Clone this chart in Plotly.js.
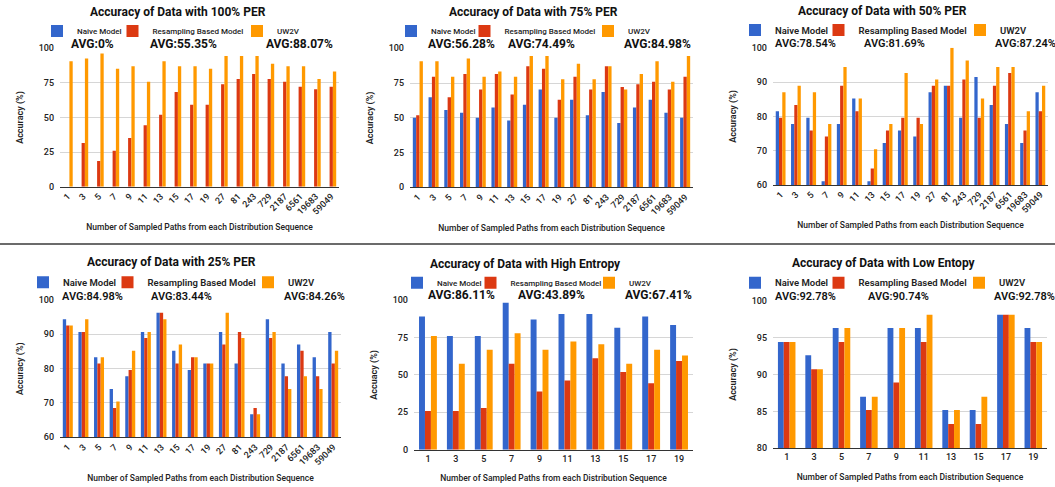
<!DOCTYPE html>
<html><head><meta charset="utf-8">
<script src="https://cdn.plot.ly/plotly-3.0.1.min.js"></script>
<style>html,body{margin:0;padding:0;background:#fff}#chart{width:1055px;height:487px}</style>
</head><body><div id="chart"></div>
<script>
// ---------- data ----------
const seriesNames = ['Naive Model', 'Resampling Based Model', 'UW2V'];
const seriesColors = ['#3366cc', '#dc3912', '#ff9900'];

const paths18 = ['1','3','5','7','9','11','13','15','17','19','27','81','243','729','2187','6561','19683','59049'];
const paths10 = ['1','3','5','7','9','11','13','15','17','19'];

// 100% PER
const naive100  = [0, 0, 0, 0, 0, 0, 0, 0, 0, 0, 0, 0, 0, 0, 0, 0, 0, 0];
const resamp100 = [0, 31.5, 18.5, 25.9, 35.2, 44.4, 51.9, 68.5, 59.3, 59.3, 74.1, 77.8, 81.5, 77.8, 75.9, 72.2, 70.4, 72.2];
const uw2v100   = [90.7, 92.6, 96.3, 85.2, 87.0, 75.9, 90.7, 87.0, 87.0, 85.2, 94.4, 94.4, 94.4, 88.9, 87.0, 87.0, 77.8, 83.3];
// 75% PER
const naive75  = [50.0, 64.8, 55.6, 53.7, 50.0, 57.4, 48.1, 59.3, 70.4, 50.0, 63.0, 51.9, 68.5, 46.3, 57.4, 63.0, 53.7, 50.0];
const resamp75 = [51.9, 79.6, 64.8, 81.5, 70.4, 81.5, 66.7, 87.0, 85.2, 63.0, 79.6, 70.4, 87.0, 72.2, 74.1, 75.9, 70.4, 79.6];
const uw2v75   = [90.7, 90.7, 79.6, 92.6, 79.6, 83.3, 79.6, 94.4, 94.4, 77.8, 88.9, 77.8, 87.0, 70.4, 81.5, 90.7, 75.9, 94.4];
// 50% PER
const naive50  = [81.5, 77.8, 79.6, 61.1, 77.8, 85.2, 61.1, 72.2, 75.9, 74.1, 87.0, 88.9, 79.6, 91.5, 83.3, 77.8, 72.2, 87.0];
const resamp50 = [79.6, 83.3, 75.9, 74.1, 88.9, 81.5, 64.8, 75.9, 79.6, 79.6, 88.9, 88.9, 90.7, 79.6, 88.9, 92.6, 75.9, 81.5];
const uw2v50   = [87.0, 88.9, 87.0, 77.8, 94.4, 85.2, 70.4, 77.8, 92.6, 77.8, 90.7, 100, 96.3, 85.2, 94.4, 94.4, 81.5, 88.9];
// 25% PER
const naive25  = [94.4, 90.7, 83.3, 74.1, 77.8, 90.7, 96.3, 85.2, 79.6, 81.5, 90.7, 81.5, 66.7, 94.4, 81.5, 87.0, 83.3, 90.7];
const resamp25 = [92.6, 90.7, 81.5, 68.5, 79.6, 88.9, 96.3, 81.5, 83.3, 81.5, 87.0, 90.7, 68.5, 88.9, 77.8, 85.2, 77.8, 81.5];
const uw2v25   = [92.6, 94.4, 83.3, 70.4, 85.2, 90.7, 94.4, 87.0, 83.3, 81.5, 96.3, 88.9, 66.7, 90.7, 74.1, 77.8, 74.1, 85.2];
// High entropy
const naiveHigh  = [88.9, 75.9, 75.9, 98.1, 87.0, 90.7, 90.7, 81.5, 88.9, 83.3];
const resampHigh = [25.9, 25.9, 27.8, 57.4, 38.9, 46.3, 61.1, 51.9, 44.4, 59.3];
const uw2vHigh   = [75.9, 57.4, 66.7, 77.8, 66.7, 72.2, 70.4, 57.4, 66.7, 63.0];
// Low entropy
const naiveLow  = [94.4, 92.6, 96.3, 87.0, 96.3, 96.3, 85.2, 85.2, 98.1, 96.3];
const resampLow = [94.4, 90.7, 94.4, 85.2, 88.9, 94.4, 83.3, 83.3, 98.1, 94.4];
const uw2vLow   = [94.4, 90.7, 96.3, 87.0, 96.3, 98.1, 85.2, 87.0, 98.1, 94.4];

const panelTitles = ['Accuracy of Data with 100% PER', 'Accuracy of Data with 75% PER', 'Accuracy of Data with 50% PER',
                     'Accuracy of Data with 25% PER', 'Accuracy of Data with High Entropy', 'Accuracy of Data with Low Entopy'];
const avgLabels = [
  ['AVG:0%', 'AVG:55.35%', 'AVG:88.07%'],
  ['AVG:56.28%', 'AVG:74.49%', 'AVG:84.98%'],
  ['AVG:78.54%', 'AVG:81.69%', 'AVG:87.24%'],
  ['AVG:84.98%', 'AVG:83.44%', 'AVG:84.26%'],
  ['AVG:86.11%', 'AVG:43.89%', 'AVG:67.41%'],
  ['AVG:92.78%', 'AVG:90.74%', 'AVG:92.78%']
];
const yTitles = ['Accuracy (%)', 'Accuracy (%)', 'Accuracy (%)', 'Accuracy (%)', 'Accuacy (%)', 'Accuracy (%)'];
const xTitle = 'Number of Sampled Paths from each Distribution Sequence';

const panelCats = [paths18, paths18, paths18, paths18, paths10, paths10];
const panelSeries = [
  [naive100, resamp100, uw2v100],
  [naive75, resamp75, uw2v75],
  [naive50, resamp50, uw2v50],
  [naive25, resamp25, uw2v25],
  [naiveHigh, resampHigh, uw2vHigh],
  [naiveLow, resampLow, uw2vLow]
];

// ---------- geometry (pixels) ----------
const W = 1055, H = 487;
const geo = [
  {x0:60,  x1:339,  y0:48.3, y1:186.7, range:[0,100], dtick:25, rot:true,  tx:178, ty:12,   lx:[37,110,232],  ly:31,    ax:[69,148,264],  ay:43.5,  big:true},
  {x0:410, x1:693,  y0:48.3, y1:187.3, range:[0,100], dtick:25, rot:true,  tx:533, ty:12.3, lx:[391,462,583], ly:31,    ax:[426,506,622], ay:43.5,  big:true},
  {x0:773, x1:1048, y0:47.7, y1:185,   range:[60,100],dtick:10, rot:true,  tx:882, ty:11,   lx:[735,816,955], ly:30,    ax:[773,862,993], ay:43.5,  big:false},
  {x0:60,  x1:341,  y0:300,  y1:437.3, range:[60,100],dtick:10, rot:true,  tx:171, ty:261.7,lx:[23,105,243],  ly:282.3, ax:[60,149,282],  ay:296.7, big:false},
  {x0:414, x1:693,  y0:300,  y1:449.7, range:[0,100], dtick:25, rot:false, tx:525, ty:264,  lx:[397,468,584], ly:282.7, ax:[426,516,623], ay:295,   big:true},
  {x0:773, x1:1047, y0:300.7,y1:448.3, range:[80,100],dtick:5,  rot:false, tx:884, ty:263.3,lx:[735,816,954], ly:282.7, ax:[773,866,992], ay:296.7, big:false}
];

const FONT = 'Roboto, Arial, sans-serif';
const data = [];
const layout = {
  width: W, height: H,
  margin: {l:0, r:0, t:0, b:0},
  paper_bgcolor: '#ffffff', plot_bgcolor: '#ffffff',
  barmode: 'group', bargap: 0.36, bargroupgap: 0,
  font: {family: FONT, color: '#222'},
  annotations: [], shapes: []
};

geo.forEach((g, i) => {
  const n = i + 1;
  const xa = 'x' + (n === 1 ? '' : n), ya = 'y' + (n === 1 ? '' : n);
  const legName = 'legend' + (n === 1 ? '' : n);
  const legWidths = [g.lx[1] - g.lx[0] - 42.5, g.lx[2] - g.lx[1] - 42.5, 0];
  panelSeries[i].forEach((vals, s) => {
    const tr = {
      type: 'bar', name: seriesNames[s], x: panelCats[i], y: vals,
      xaxis: xa, yaxis: ya, legend: legName,
      marker: {color: seriesColors[s], line: {width: 0}},
      hoverinfo: 'x+y+name'
    };
    if (legWidths[s] > 0) tr.legendwidth = legWidths[s];
    data.push(tr);
  });

  layout['xaxis' + (n === 1 ? '' : n)] = {
    domain: [g.x0 / W, g.x1 / W], anchor: ya, type: 'category',
    tickangle: g.rot ? -45 : 0, ticks: '', showgrid: false,
    showline: true, linecolor: '#333', linewidth: 1,
    tickfont: {family: FONT, size: 9, color: '#222', weight: 500},
    automargin: false, fixedrange: true,
    title: {text: xTitle, font: {family: FONT, size: 8.5, color: '#222', weight: 500}, standoff: g.rot ? 8 : 12}
  };
  layout['yaxis' + (n === 1 ? '' : n)] = {
    domain: [1 - g.y1 / H, 1 - g.y0 / H], anchor: xa,
    range: g.range, dtick: g.dtick, tick0: g.range[0],
    showgrid: true, gridcolor: '#d6d6d6', gridwidth: 1, zeroline: false, showline: false,
    ticks: '', ticklabelstandoff: 5,
    tickfont: {family: FONT, size: 9, color: '#222', weight: 500},
    automargin: false, fixedrange: true,
    title: {text: yTitles[i], font: {family: FONT, size: 9, color: '#222', weight: 600}, standoff: 13}
  };
  layout[legName] = {
    orientation: 'h', x: g.lx[0] / W, xanchor: 'left', y: 1 - g.ly / H, yanchor: 'middle',
    bgcolor: 'rgba(0,0,0,0)', borderwidth: 0, itemwidth: 30, traceorder: 'normal',
    font: {family: FONT, size: g.big ? 8 : 9.5, color: '#222', weight: g.big ? 500 : 600},
    itemclick: false, itemdoubleclick: false
  };
  // panel title
  layout.annotations.push({
    xref: 'paper', yref: 'paper', x: g.tx / W, y: 1 - g.ty / H, xanchor: 'center', yanchor: 'middle',
    text: panelTitles[i], showarrow: false,
    font: {family: FONT, size: 12, color: '#111', weight: 700}
  });
  // averages
  avgLabels[i].forEach((t, k) => {
    layout.annotations.push({
      xref: 'paper', yref: 'paper', x: g.ax[k] / W, y: 1 - g.ay / H, xanchor: 'left', yanchor: 'middle',
      text: t, showarrow: false,
      font: {family: FONT, size: g.big ? 12 : 11, color: '#111', weight: g.big ? 700 : 600}
    });
  });
});

// separator between the two rows
layout.shapes.push({type: 'line', xref: 'paper', yref: 'paper', x0: 0, x1: 1, y0: 1 - 244 / H, y1: 1 - 244 / H,
  line: {color: '#3a3a3a', width: 1.5}});

Plotly.newPlot('chart', data, layout, {displayModeBar: false, staticPlot: true});
</script></body></html>
